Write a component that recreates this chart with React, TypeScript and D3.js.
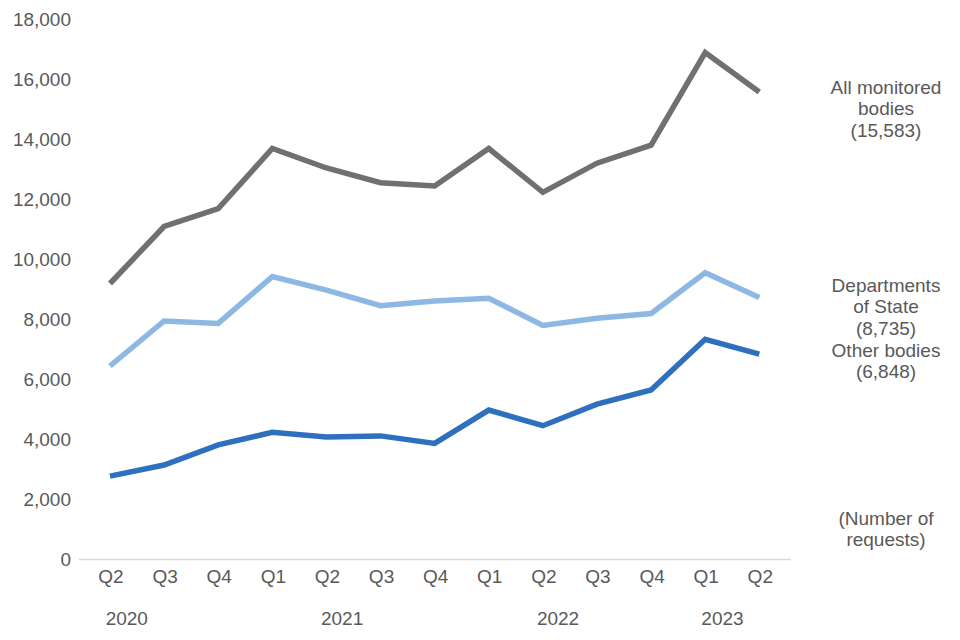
import React from "react";
import * as d3 from "d3";

const quarters = ["Q2", "Q3", "Q4", "Q1", "Q2", "Q3", "Q4", "Q1", "Q2", "Q3", "Q4", "Q1", "Q2"];
const years = ["2020", "2021", "2022", "2023"];
const yearAnchor = [0.31, 4.29, 8.28, 11.32];

const allBodies = [9200, 11100, 11700, 13700, 13050, 12560, 12450, 13700, 12240, 13210, 13810, 16900, 15583];
const departments = [6450, 7950, 7870, 9430, 8980, 8460, 8620, 8710, 7800, 8040, 8200, 9560, 8735];
const otherBodies = [2780, 3150, 3820, 4240, 4080, 4120, 3870, 4980, 4460, 5180, 5650, 7340, 6848];

const yTicks = [0, 2000, 4000, 6000, 8000, 10000, 12000, 14000, 16000, 18000];

const seriesLabels = [
  { lines: ["All monitored", "bodies", "(15,583)"], y: 87 },
  { lines: ["Departments", "of State", "(8,735)"], y: 285 },
  { lines: ["Other bodies", "(6,848)"], y: 350 },
  { lines: ["(Number of", "requests)"], y: 518 },
];

const FONT = "'Liberation Sans', Arial, sans-serif";
const TXT = "#595959";

export default function App() {
  const idx = quarters.map((_, i) => i);
  const x = d3.scaleLinear().domain([0, quarters.length - 1]).range([110, 759.3]);
  const y = d3.scaleLinear().domain([0, 18000]).range([559.5, 19.5]);
  const line = d3
    .line<number>()
    .x((_, i) => x(i))
    .y((d) => y(d))
    .curve(d3.curveLinear);

  const series = [
    { data: otherBodies, color: "#2f70be" },
    { data: departments, color: "#8db8e3" },
    { data: allBodies, color: "#707070" },
  ];

  return (
    <svg
      width={960}
      height={640}
      style={{ position: "absolute", left: 0, top: 0, background: "#fff" }}
      fontFamily={FONT}
    >
      <line x1={79} x2={791} y1={y(0)} y2={y(0)} stroke="#d9d9d9" strokeWidth={1.3} />
      {yTicks.map((t) => (
        <text key={t} x={71} y={y(t)} dy="0.35em" textAnchor="end" fontSize={19} fill={TXT}>
          {d3.format(",")(t)}
        </text>
      ))}
      {idx.map((i) => (
        <text key={i} x={x(i) + 1} y={576} dy="0.35em" textAnchor="middle" fontSize={19} fill={TXT}>
          {quarters[i]}
        </text>
      ))}
      {years.map((yr, i) => (
        <text key={yr} x={x(yearAnchor[i])} y={618} dy="0.35em" textAnchor="middle" fontSize={19} fill={TXT}>
          {yr}
        </text>
      ))}
      {series.map((s, i) => (
        <path
          key={i}
          d={line(s.data) || ""}
          fill="none"
          stroke={s.color}
          strokeWidth={5.5}
          strokeLinejoin="miter"
          strokeLinecap="butt"
        />
      ))}
      {seriesLabels.map((lab, i) => (
        <text key={i} x={886} y={lab.y} textAnchor="middle" fontSize={19} fill={TXT}>
          {lab.lines.map((l, j) => (
            <tspan key={j} x={886} y={lab.y + j * 21.5} dy="0.35em">
              {l}
            </tspan>
          ))}
        </text>
      ))}
    </svg>
  );
}
